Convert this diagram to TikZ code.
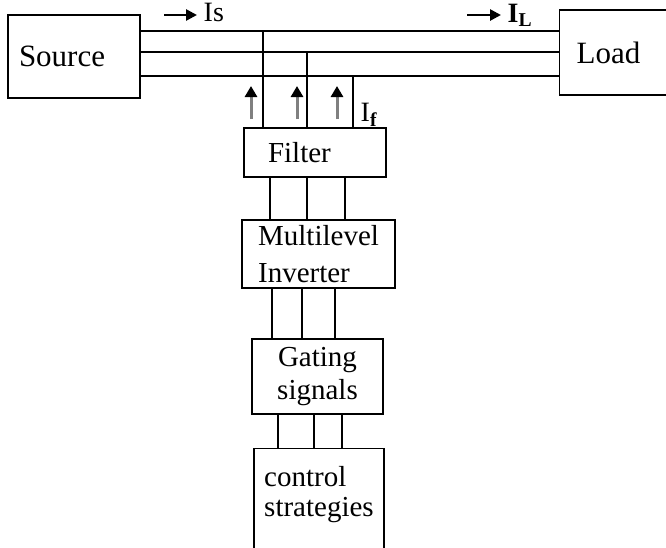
\documentclass[tikz,border=0pt]{standalone}
\usepackage{fontspec}
\setmainfont{Liberation Serif}
\usetikzlibrary{arrows.meta, positioning, calc}
\definecolor{cgrey}{HTML}{808080}
\tikzset{
  every picture/.style={line width=1.4pt},
  box/.style={draw, rectangle, inner sep=0pt, align=center, font=\fontsize{29}{36}\selectfont},
  arrow/.style={-{Triangle[length=11pt, width=11pt]}, line width=2.6pt},
  uparrow/.style={-{Triangle[length=11pt, width=12pt, color=black]}, draw=cgrey, line width=3pt},
  lbl/.style={font=\fontsize{28}{30}\selectfont, inner sep=0pt},
}

\begin{document}
\begin{tikzpicture}[x=1pt, y=-1pt]
  \useasboundingbox (0,0) rectangle (666,547);
  \clip (0,0) rectangle (666,547);
  % blocks
  \node[box, minimum width=132pt, minimum height=83pt, inner xsep=11pt, text width=110pt, align=left, font=\fontsize{31}{36}\selectfont] (source) at (74,56.5) {Source};
  \node[box, anchor=west, minimum width=130pt, minimum height=85pt, inner xsep=17pt, text width=96pt, align=left, font=\fontsize{31}{36}\selectfont] (load) at (559,52.5) {Load};
  \node[box, minimum width=142pt, minimum height=49pt, inner xsep=24pt, text width=94pt, align=left] (filter) at (315,152.5) {Filter};
  \node[box, minimum width=153pt, minimum height=68pt, align=left, font=\fontsize{29}{37}\selectfont] (inv) at (318.5,254) {Multilevel\\Inverter};
  \node[box, minimum width=131pt, minimum height=75pt, font=\fontsize{29}{33}\selectfont] (gate) at (317.5,376.5) {Gating\\signals};
  \node[box, anchor=north, minimum width=130pt, minimum height=140pt] (ctrl) at (319,448) {};
  \node[box, draw=none, align=left, font=\fontsize{29}{30}\selectfont, below=18pt of ctrl.north] (ctrltxt) {control\\strategies};
  % three phase lines
  \foreach \y [count=\i] in {31,52,76} {
    \draw (source.east |- 0,\y) coordinate (s\i) -- (load.west |- 0,\y) coordinate (l\i);
  }
  % taps into the filter
  \draw (s1 -| 263,0) -- (filter.north -| 263,0);
  \draw (s2 -| 307,0) -- (filter.north -| 307,0);
  \draw (s3 -| 353,0) -- (filter.north -| 353,0);
  \foreach \x in {251,297,337} {
    \draw[uparrow] (\x,119) -- (\x,86);
  }
  \node[lbl, anchor=base west] (if) at (360,121) {I\textsubscript{\textbf{f}}};
  % currents
  \coordinate (isfrom) at (164,15);
  \node[lbl, anchor=west] (is) at (203,12) {Is};
  \draw[arrow] (isfrom) -- ($(is.west |- isfrom)+(-6,0)$);
  \coordinate (ilfrom) at (467,15);
  \node[lbl, anchor=west] (il) at (507,15) {\textbf{I}\textsubscript{\textbf{L}}};
  \draw[arrow] (ilfrom) -- ($(il.west |- ilfrom)+(-6,0)$);
  % links down the chain
  \foreach \x in {270,307,345} {
    \draw (filter.south -| \x,0) -- (inv.north -| \x,0);
  }
  \foreach \x in {272,302,335} {
    \draw (inv.south -| \x,0) -- (gate.north -| \x,0);
  }
  \foreach \x in {278,314,342} {
    \draw (gate.south -| \x,0) -- (ctrl.north -| \x,0);
  }
\end{tikzpicture}
\end{document}
